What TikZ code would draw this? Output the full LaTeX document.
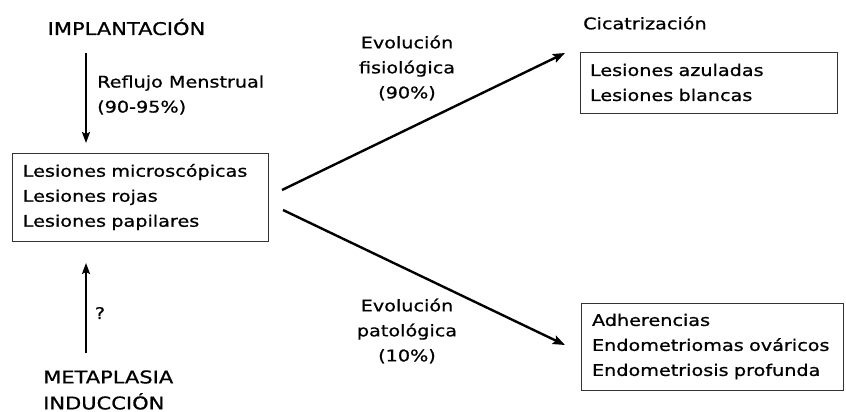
\documentclass[tikz,border=0pt]{standalone}
\usepackage{fontspec}
\setmainfont[FakeStretch=1.2,FakeBold=0.8]{DejaVu Sans}
\usetikzlibrary{arrows.meta}
\begin{document}
\begin{tikzpicture}[x=1pt,y=-1pt,
  every node/.style={font=\fontsize{16}{25}\selectfont, inner sep=0pt},
  caps/.style={font=\fontsize{17.5}{26}\selectfont},
  lbox/.style={draw=black!80, line width=0.9pt, align=left},
  arr/.style={line width=2pt, -{Stealth[length=11pt,width=8pt,inset=2pt]}},
  darr/.style={line width=2.4pt, -{Stealth[length=12pt,width=9pt,inset=2pt]}}]
\useasboundingbox (0,0) rectangle (846,412);
% labels
\node[caps] (impl) at (126.5,27) {IMPLANTACIÓN};
\node[anchor=west, align=left] (refl) at (97,95) {Reflujo Menstrual\\(90-95\%)};
\node[anchor=west] (cic) at (583,23) {Cicatrización};
\node[align=center] (fisio) at (407,68) {Evolución\\fisiológica\\(90\%)};
\node[align=center] (pato) at (407,331) {Evolución\\patológica\\(10\%)};
\node (q) at (100,313) {?};
\node[caps, anchor=west, align=left] (meta) at (43,390) {METAPLASIA\\INDUCCIÓN};
% boxes
\node[lbox, minimum width=255.3pt, minimum height=88pt, text width=235pt] (b1) at (140.3,197)
  {Lesiones microscópicas\\Lesiones rojas\\Lesiones papilares};
\node[lbox, minimum width=257pt, minimum height=61pt, text width=237pt] (b2) at (708.5,82.5)
  {Lesiones azuladas\\Lesiones blancas};
\node[lbox, minimum width=262pt, minimum height=87pt, text width=240pt] (b3) at (712,346.5)
  {Adherencias\\Endometriomas ováricos\\Endometriosis profunda};
% connector end points
\coordinate (d1) at (86,53);
\coordinate (d2) at (86,143);
\coordinate (u1) at (86,353);
\coordinate (u2) at (86,263);
\coordinate (s1) at (282,190);
\coordinate (t1) at (565,53);
\coordinate (s2) at (283,210);
\coordinate (t2) at (565,345);
% arrows
\draw[arr] (d1) -- (d2);
\draw[arr] (u1) -- (u2);
\draw[darr] (s1) -- (t1);
\draw[darr] (s2) -- (t2);
\end{tikzpicture}
\end{document}
